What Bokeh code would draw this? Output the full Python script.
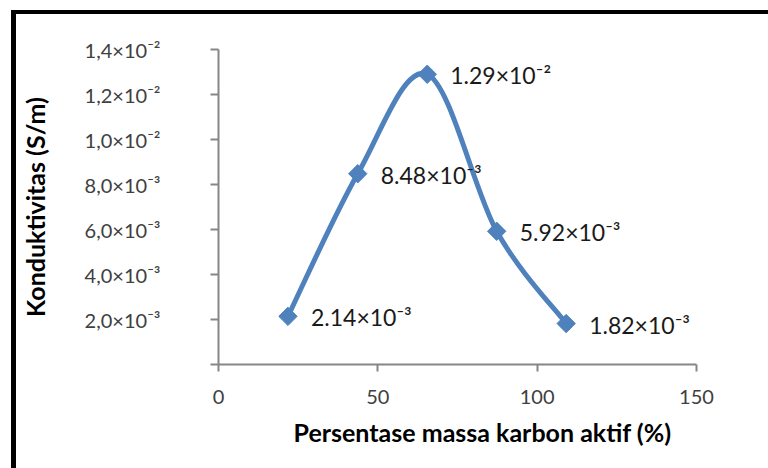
from bokeh.plotting import figure
from bokeh.models import FixedTicker, ColumnDataSource, Range1d, Div, Spacer, Title
from bokeh.layouts import column, row
from bokeh.core.properties import value
from bokeh.embed import file_html
from bokeh.resources import INLINE
import math

# ---- data (x positions) ----
mass_pct = [21.8, 43.7, 65.5, 87.3, 109.1]
conductivity = [2.14e-3, 8.48e-3, 1.29e-2, 5.92e-3, 1.82e-3]
point_labels = ["2.14×10⁻³", "8.48×10⁻³", "1.29×10⁻²", "5.92×10⁻³", "1.82×10⁻³"]

x_ticks = [0, 50, 100, 150]
y_ticks = [0, 0.002, 0.004, 0.006, 0.008, 0.010, 0.012, 0.014]
y_tick_labels = ["", "2,0×10⁻³", "4,0×10⁻³", "6,0×10⁻³", "8,0×10⁻³",
                 "1,0×10⁻²", "1,2×10⁻²", "1,4×10⁻²"]

FONT = "Lato"
BLUE = "#4F81BD"
AXIS = "#868686"

p = figure(width=752, height=454, output_backend="svg", toolbar_location=None,
           x_range=Range1d(0, 150), y_range=Range1d(0, 0.014),
           min_border_left=199, min_border_right=72, min_border_top=35,
           min_border_bottom=104, margin=0)
p.outline_line_color = None
p.grid.visible = False
p.background_fill_color = "white"

# axes
p.xaxis.ticker = FixedTicker(ticks=x_ticks)
p.yaxis.ticker = FixedTicker(ticks=y_ticks)
p.yaxis.major_label_overrides = {t: l for t, l in zip(y_ticks, y_tick_labels)}
p.xaxis.minor_tick_line_color = None
p.yaxis.minor_tick_line_color = None
for ax in (p.xaxis, p.yaxis):
    ax.axis_line_color = AXIS
    ax.axis_line_width = 2
    ax.major_tick_line_color = AXIS
    ax.major_tick_line_width = 2
    ax.major_tick_in = 0
    ax.major_label_text_font = FONT
    ax.major_label_text_font_size = "20px"
    ax.major_label_text_color = "#404040"
    ax.axis_label_text_font = FONT
    ax.axis_label_text_font_size = "25px"
    ax.axis_label_text_font_style = "bold"
    ax.axis_label_text_color = "black"
p.xaxis.major_tick_out = 7
p.yaxis.major_tick_out = 8
p.xaxis.major_label_standoff = 18
p.yaxis.major_label_standoff = 50
p.yaxis.axis_label = "Konduktivitas (S/m)"
p.yaxis.axis_label_standoff = 32

# x-axis title (slightly right of the plot centre, as in the original)
p.add_layout(Title(text="Persentase massa karbon aktif (%)", align="left",
                   offset=75, standoff=16, text_font=FONT, text_font_size="25px",
                   text_font_style="bold", text_color="black"), "below")

# smoothed line (Excel-like Catmull-Rom Bezier segments built from the data)
n = len(mass_pct)
x0s, y0s, x1s, y1s, cx0s, cy0s, cx1s, cy1s = [], [], [], [], [], [], [], []
for i in range(n - 1):
    xa, ya = mass_pct[i], conductivity[i]
    xb, yb = mass_pct[i + 1], conductivity[i + 1]
    xp, yp = (mass_pct[i - 1], conductivity[i - 1]) if i > 0 else (xa, ya)
    xn, yn = (mass_pct[i + 2], conductivity[i + 2]) if i + 2 < n else (xb, yb)
    x0s.append(xa); y0s.append(ya); x1s.append(xb); y1s.append(yb)
    cx0s.append(xa + (xb - xp) / 6); cy0s.append(ya + (yb - yp) / 6)
    cx1s.append(xb - (xn - xa) / 6); cy1s.append(yb - (yn - ya) / 6)
p.bezier(x0=x0s, y0=y0s, x1=x1s, y1=y1s, cx0=cx0s, cy0=cy0s, cx1=cx1s, cy1=cy1s,
         line_color=BLUE, line_width=5, line_cap="round")

src = ColumnDataSource(dict(x=mass_pct, y=conductivity, label=point_labels))
p.scatter("x", "y", source=src, marker="square", size=13, angle=math.pi / 4,
          fill_color=BLUE, line_color=BLUE)
p.text("x", "y", text="label", source=src, x_offset=23, y_offset=1,
       text_baseline="middle", text_align="left", text_font=value(FONT),
       text_font_size="23px", text_color="#1a1a1a")

# black top and left edges of the screenshot frame
top_bar = Div(text="", width=757, height=4, margin=0,
              styles={"background-color": "black"})
left_bar = Div(text="", width=5, height=454, margin=0,
               styles={"background-color": "black"})
layout = column(
    Spacer(height=10, width=768, margin=0),
    row(Spacer(width=11, height=4, margin=0), top_bar, spacing=0, margin=0),
    row(Spacer(width=11, height=454, margin=0), left_bar, p, spacing=0, margin=0),
    spacing=0, margin=0,
)

open("out.html", "w").write(file_html(layout, INLINE))
